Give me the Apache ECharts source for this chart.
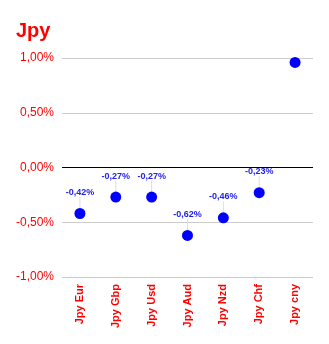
<!DOCTYPE html>
<html>
<head>
<meta charset="utf-8">
<script src="https://cdn.jsdelivr.net/npm/echarts@6/dist/echarts.min.js"></script>
<style>
  html, body { margin: 0; padding: 0; background: #fff; }
  #chart { width: 329px; height: 344px; }
</style>
</head>
<body>
<div id="chart"></div>
<script>
// Yen crosses, percentage change
const categories = ['Jpy Eur', 'Jpy Gbp', 'Jpy Usd', 'Jpy Aud', 'Jpy Nzd', 'Jpy Chf', 'Jpy cny'];
const values = [-0.42, -0.27, -0.27, -0.62, -0.46, -0.23, 0.96];
const showValueLabel = [true, true, true, true, true, true, false];
const yTicks = [-1, -0.5, 0, 0.5, 1];

const fmtPct = v => v.toFixed(2).replace('.', ',') + '%';

const chart = echarts.init(document.getElementById('chart'), null, { renderer: 'canvas' });
chart.setOption({
  animation: false,
  backgroundColor: '#ffffff',
  title: {
    text: 'Jpy',
    left: 11,
    top: 16,
    textStyle: { color: '#ff0000', fontSize: 20, fontWeight: 'bold', fontFamily: 'Liberation Sans, Arial, sans-serif' }
  },
  grid: { left: 62, right: 16, top: 58, bottom: 67, containLabel: false },
  xAxis: {
    type: 'category',
    data: categories,
    axisLine: { show: false },
    axisTick: { show: false },
    axisLabel: {
      rotate: 90,
      margin: 7,
      color: '#ff0000',
      fontSize: 11,
      fontWeight: 'bold',
      fontFamily: 'Liberation Sans, Arial, sans-serif'
    },
    splitLine: { show: false }
  },
  yAxis: {
    type: 'value',
    min: yTicks[0],
    max: yTicks[yTicks.length - 1],
    interval: 0.5,
    axisLine: { show: false },
    axisTick: { show: false },
    axisLabel: {
      color: '#ff0000',
      fontSize: 12,
      margin: 8,
      fontFamily: 'Liberation Sans, Arial, sans-serif',
      formatter: v => fmtPct(v)
    },
    splitLine: { lineStyle: { color: '#cccccc', width: 1 } }
  },
  series: [{
    type: 'scatter',
    symbolSize: 11,
    itemStyle: { color: '#0000ff', opacity: 1 },
    data: values.map((v, i) => ({
      value: v,
      label: { show: showValueLabel[i] }
    })),
    label: {
      position: 'top',
      distance: 2,
      color: '#2222ee',
      fontSize: 9,
      fontWeight: 'bold',
      fontFamily: 'Liberation Sans, Arial, sans-serif',
      formatter: p => fmtPct(p.value)
    },
    labelLayout: { dy: -9 },
    labelLine: { show: true, showAbove: false, lineStyle: { color: '#dddddd', width: 1 } },
    markLine: {
      silent: true,
      symbol: 'none',
      label: { show: false },
      lineStyle: { color: '#000000', width: 1, type: 'solid' },
      data: [{ yAxis: 0 }]
    },
    z: 3
  }]
});
</script>
</body>
</html>
